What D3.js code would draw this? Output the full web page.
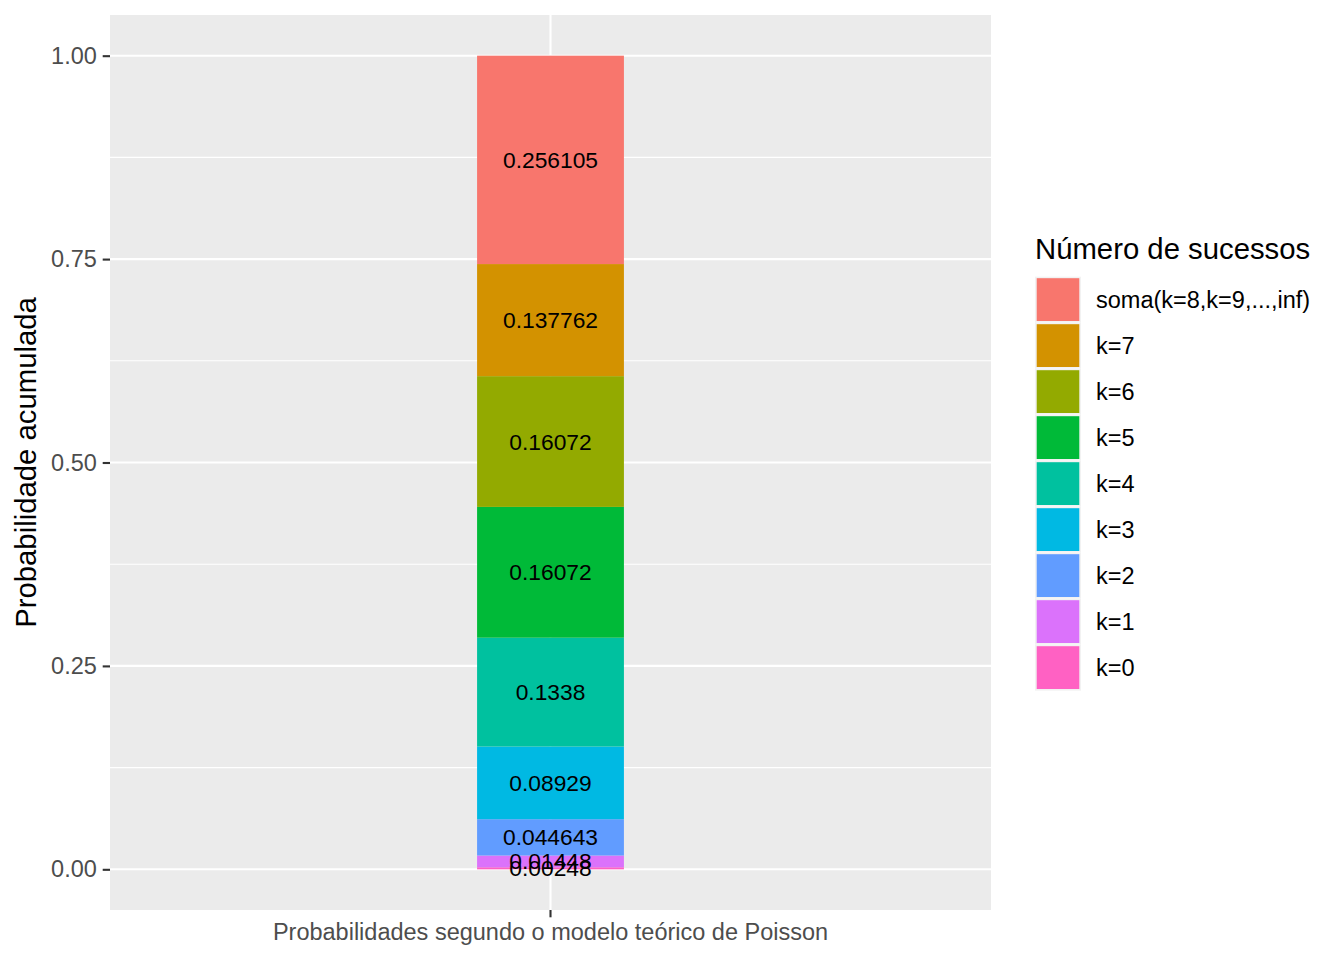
<!DOCTYPE html>
<html>
<head>
<meta charset="utf-8">
<script src="https://cdn.jsdelivr.net/npm/d3@7"></script>
<style>
  html, body { margin: 0; padding: 0; background: #ffffff; }
  svg { display: block; }
  text { font-family: "Liberation Sans", Arial, Helvetica, sans-serif; }
</style>
</head>
<body>
<script>
// ---- Data ----
const category = "Probabilidades segundo o modelo teórico de Poisson";
// stack order: bottom -> top
const levels = ["k=0", "k=1", "k=2", "k=3", "k=4", "k=5", "k=6", "k=7", "soma(k=8,k=9,...,inf)"];
const values = [0.00248, 0.01448, 0.044643, 0.08929, 0.1338, 0.16072, 0.16072, 0.137762, 0.256105];
const labels = ["0.00248", "0.01448", "0.044643", "0.08929", "0.1338", "0.16072", "0.16072", "0.137762", "0.256105"];
const colors = ["#FF61C3", "#DB72FB", "#619CFF", "#00B9E3", "#00C19F", "#00BA38", "#93AA00", "#D39200", "#F8766D"];
const yTicks = [0, 0.25, 0.5, 0.75, 1.0];
const yMinor = [0.125, 0.375, 0.625, 0.875];
const yTickLabels = ["0.00", "0.25", "0.50", "0.75", "1.00"];
const yTitle = "Probabilidade acumulada";
const legendTitle = "Número de sucessos";

// ---- Layout ----
const W = 1344, H = 960;
const panel = { left: 110, right: 991, top: 15, bottom: 910 };

const svg = d3.select("body").append("svg").attr("width", W).attr("height", H);

const x = d3.scaleBand().domain([category]).range([panel.left, panel.right])
  .paddingInner(0).paddingOuter(2.5);
const y = d3.scaleLinear().domain([-0.05, 1.05]).range([panel.bottom, panel.top]);

// panel background
svg.append("rect")
  .attr("x", panel.left).attr("y", panel.top)
  .attr("width", panel.right - panel.left).attr("height", panel.bottom - panel.top)
  .attr("fill", "#EBEBEB");

// minor grid
svg.append("g").selectAll("line").data(yMinor).join("line")
  .attr("x1", panel.left).attr("x2", panel.right)
  .attr("y1", d => y(d)).attr("y2", d => y(d))
  .attr("stroke", "#ffffff").attr("stroke-width", 1.1);

// major grid
svg.append("g").selectAll("line").data(yTicks).join("line")
  .attr("x1", panel.left).attr("x2", panel.right)
  .attr("y1", d => y(d)).attr("y2", d => y(d))
  .attr("stroke", "#ffffff").attr("stroke-width", 2.1);
const xc = x(category) + x.bandwidth() / 2;
svg.append("line")
  .attr("x1", xc).attr("x2", xc).attr("y1", panel.top).attr("y2", panel.bottom)
  .attr("stroke", "#ffffff").attr("stroke-width", 2.1);

// stacked data
const stackData = [];
let cum = 0;
values.forEach((v, i) => {
  stackData.push({ level: levels[i], y0: cum, y1: cum + v, label: labels[i], color: colors[i] });
  cum += v;
});

svg.append("g").selectAll("rect").data(stackData).join("rect")
  .attr("x", x(category)).attr("width", x.bandwidth())
  .attr("y", d => y(d.y1)).attr("height", d => y(d.y0) - y(d.y1))
  .attr("fill", d => d.color);

svg.append("g").selectAll("text").data(stackData).join("text")
  .attr("x", xc).attr("y", d => y((d.y0 + d.y1) / 2))
  .attr("text-anchor", "middle").attr("dominant-baseline", "central")
  .attr("font-size", 22.8).attr("fill", "#000000")
  .text(d => d.label);

// y axis
const yAxis = d3.axisLeft(y).tickValues(yTicks).tickSize(7.3).tickPadding(5.9)
  .tickFormat((d, i) => yTickLabels[i]);
const gy = svg.append("g").attr("transform", `translate(${panel.left},0)`).call(yAxis);
gy.select(".domain").remove();
gy.selectAll(".tick line").attr("stroke", "#333333").attr("stroke-width", 2.1);
gy.selectAll(".tick text").attr("fill", "#4D4D4D").attr("font-size", 23.5)
  .attr("font-family", "Liberation Sans, Arial, sans-serif");

// x axis
const xAxis = d3.axisBottom(x).tickSize(7.3).tickPadding(5.9);
const gx = svg.append("g").attr("transform", `translate(0,${panel.bottom})`).call(xAxis);
gx.select(".domain").remove();
gx.selectAll(".tick line").attr("stroke", "#333333").attr("stroke-width", 2.1);
gx.selectAll(".tick text").attr("fill", "#4D4D4D").attr("font-size", 23.5)
  .attr("font-family", "Liberation Sans, Arial, sans-serif");

// y title
svg.append("text")
  .attr("transform", `translate(36,${(panel.top + panel.bottom) / 2}) rotate(-90)`)
  .attr("text-anchor", "middle").attr("font-size", 29.3).attr("fill", "#000000")
  .text(yTitle);

// legend
const lg = svg.append("g");
lg.append("text").attr("x", 1035).attr("y", 259)
  .attr("font-size", 29.3).attr("fill", "#000000").text(legendTitle);
const legendItems = stackData.slice().reverse();
const keyTop = 276.7, keyStep = 46, keySize = 46;
const items = lg.selectAll("g.item").data(legendItems).join("g")
  .attr("class", "item")
  .attr("transform", (d, i) => `translate(1035,${keyTop + i * keyStep})`);
items.append("rect").attr("width", keySize).attr("height", keySize).attr("fill", "#F2F2F2");
items.append("rect").attr("x", 1.7).attr("y", 1.5).attr("width", keySize - 3.4).attr("height", keySize - 3.2)
  .attr("fill", d => d.color);
items.append("text").attr("x", 61).attr("y", keySize / 2)
  .attr("dominant-baseline", "central").attr("font-size", 23.5).attr("fill", "#000000")
  .text(d => d.level);
</script>
</body>
</html>
